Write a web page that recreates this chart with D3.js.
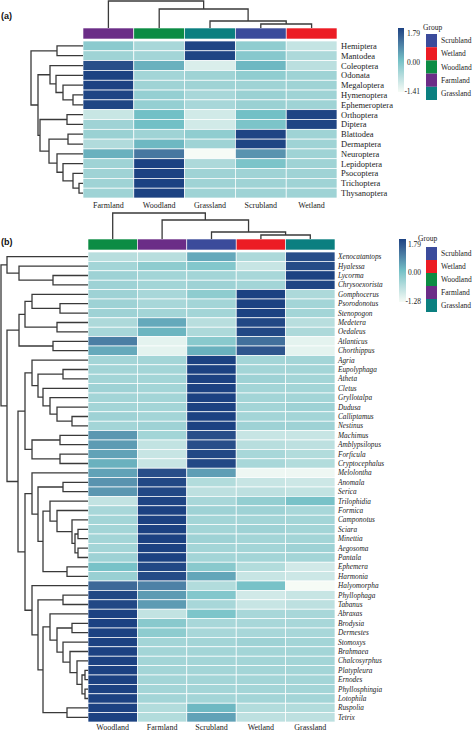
<!DOCTYPE html>
<html><head><meta charset="utf-8">
<script src="https://cdn.jsdelivr.net/npm/d3@7/dist/d3.min.js"></script>
<style>body{margin:0;background:#fff}svg{display:block}</style>
</head><body>
<svg id="c" width="474" height="733"></svg>
<script>
// ---------------- DATA ----------------
const groups = ["Scrubland","Wetland","Woodland","Farmland","Grassland"];
const groupColors = ["#3b4b9b","#ec1c24","#0c8c44","#6b2d87","#0b7f80"];

// Panel (a): orders
const colsA = ["Farmland","Woodland","Grassland","Scrubland","Wetland"];
const rowsA = ["Hemiptera","Mantodea","Coleoptera","Odonata","Megaloptera","Hymenoptera","Ephemeroptera",
  "Orthoptera","Diptera","Blattodea","Dermaptera","Neuroptera","Lepidoptera","Psocoptera","Trichoptera","Thysanoptera"];
const valuesA = [
  [-0.25,-0.55, 1.75,-0.30,-0.85],
  [-0.45,-0.50, 1.75,-0.20,-0.60],
  [ 1.60, 0.20,-1.10, 0.10,-0.75],
  [ 1.79,-0.50,-0.45,-0.30,-0.45],
  [ 1.79,-0.45,-0.45,-0.45,-0.45],
  [ 1.75,-0.35,-0.55,-0.40,-0.45],
  [ 1.75,-0.35,-0.55,-0.40,-0.45],
  [-0.90, 0.00,-1.00, 0.00, 1.75],
  [-0.45, 0.00,-1.00,-0.10, 1.75],
  [-0.40,-0.45,-0.30, 1.75,-0.45],
  [-0.65, 0.10,-0.45, 1.75,-0.45],
  [ 0.20, 1.00,-1.41, 0.60,-0.45],
  [-0.45, 1.79,-0.60,-0.10,-0.45],
  [-0.45, 1.79,-0.45,-0.45,-0.45],
  [-0.45, 1.79,-0.45,-0.45,-0.45],
  [-0.45, 1.79,-0.45,-0.45,-0.45]
];
const legendTicksA = [-1.41, 0, 1.79];
const tickLabelsA = ["-1.41","0.00","1.79"];
// dendrograms: [mergeHeight, left, right]
const colTreeA = [27, "Farmland", [19, "Woodland", [7, "Grassland", [4, "Scrubland", "Wetland"]]]];
const rowTreeA = [52,
  [26, "Hemiptera", "Mantodea"],
  [45,
    [33, "Coleoptera", [27, "Odonata", [20, "Megaloptera", [10, "Hymenoptera", "Ephemeroptera"]]]],
    [43,
      [16, "Orthoptera", "Diptera"],
      [34,
        [15, "Blattodea", "Dermaptera"],
        [26, "Neuroptera", [20, "Lepidoptera", [10, "Psocoptera", [4, "Trichoptera", "Thysanoptera"]]]]]]]];

// Panel (b)
const colsB = ["Woodland","Farmland","Scrubland","Wetland","Grassland"];
const rowsB = ["Xenocatantops","Hyalessa","Lycorma","Chrysoexorista","Gomphocerus","Psorodonotus","Stenopogon",
  "Medetera","Oedaleus","Atlanticus","Chorthippus","Agria","Eupolyphaga","Atheta","Cletus","Gryllotalpa","Dudusa",
  "Calliptamus","Nestinus","Machimus","Amblypsilopus","Forficula","Cryptocephalus","Melolontha","Anomala","Serica",
  "Trilophidia","Formica","Camponotus","Sciara","Minettia","Aegosoma","Pantala","Ephemera","Harmonia","Halyomorpha",
  "Phyllophaga","Tabanus","Abraxas","Brodysia","Dermestes","Stomoxys","Brahmaea","Chalcosyrphus","Platypleura",
  "Ernodes","Phyllosphingia","Lotophila","Ruspolia","Tetrix"];
const valuesB = [
  [-0.65,-0.65, 0.30,-0.55, 1.60],
  [-0.45,-0.25,-0.15,-0.80, 1.65],
  [-0.40,-0.45,-0.45,-0.50, 1.79],
  [-0.40,-0.45,-0.40,-0.45, 1.75],
  [-0.40,-0.50,-0.25, 1.79,-0.55],
  [-0.40,-0.50,-0.45, 1.79,-0.45],
  [-0.40,-0.45,-0.45, 1.79,-0.45],
  [-0.55, 0.30,-0.65, 1.70,-0.65],
  [-0.50, 0.15,-0.55, 1.70,-0.55],
  [ 0.90,-1.10,-0.20, 1.10,-1.10],
  [ 0.30,-1.10, 0.20, 1.50,-1.10],
  [-0.45,-0.45, 1.79,-0.45,-0.45],
  [-0.45,-0.45, 1.79,-0.45,-0.45],
  [-0.45,-0.45, 1.79,-0.40,-0.45],
  [-0.40,-0.45, 1.79,-0.45,-0.45],
  [-0.45,-0.45, 1.79,-0.45,-0.45],
  [-0.45,-0.45, 1.79,-0.45,-0.40],
  [-0.40,-0.45, 1.79,-0.45,-0.45],
  [-0.45,-0.40, 1.79,-0.40,-0.40],
  [ 0.55,-0.45, 1.60,-0.80,-0.80],
  [ 0.50,-0.75, 1.60,-0.65,-0.70],
  [ 0.40,-0.80, 1.70,-0.50,-0.60],
  [ 0.20,-0.80, 1.70,-0.50,-0.60],
  [ 0.40, 1.60, 0.45,-1.20,-1.20],
  [ 0.60, 1.70,-0.60,-0.80,-0.85],
  [ 0.55, 1.70,-0.70,-0.70,-0.75],
  [-0.75, 1.75,-0.50,-0.30,-0.05],
  [-0.50, 1.79,-0.40,-0.40,-0.50],
  [-0.45, 1.79,-0.45,-0.45,-0.45],
  [-0.45, 1.79,-0.45,-0.40,-0.45],
  [-0.45, 1.79,-0.40,-0.45,-0.45],
  [-0.45, 1.79,-0.45,-0.45,-0.40],
  [-0.40, 1.79,-0.45,-0.45,-0.45],
  [-0.05, 1.70,-0.20,-0.60,-0.90],
  [-0.35, 1.65, 0.35,-0.80,-0.85],
  [ 1.20, 0.85,-0.60,-0.05,-1.28],
  [ 1.70, 0.50,-0.15,-0.90,-0.80],
  [ 1.70, 0.50,-0.50,-0.80,-0.70],
  [ 1.79,-0.75,-0.10,-0.50,-0.50],
  [ 1.79,-0.20,-0.50,-0.50,-0.50],
  [ 1.79,-0.25,-0.50,-0.50,-0.50],
  [ 1.79,-0.45,-0.45,-0.40,-0.45],
  [ 1.79,-0.45,-0.45,-0.45,-0.45],
  [ 1.79,-0.45,-0.45,-0.45,-0.45],
  [ 1.79,-0.45,-0.45,-0.45,-0.45],
  [ 1.79,-0.45,-0.45,-0.45,-0.45],
  [ 1.79,-0.45,-0.45,-0.45,-0.45],
  [ 1.79,-0.45,-0.45,-0.45,-0.45],
  [ 1.79,-0.60, 0.10,-0.60,-0.60],
  [ 1.79,-0.60, 0.40,-0.70,-0.70]
];
const legendTicksB = [-1.28, 0, 1.79];
const tickLabelsB = ["-1.28","0.00","1.79"];
const colTreeB = [26, "Woodland", [19, "Farmland", [7, "Scrubland", [4, "Wetland", "Grassland"]]]];
const rowTreeB = [87,
  [81, "Xenocatantops", [69, "Hyalessa", [35, "Lycorma", "Chrysoexorista"]]],
  [81,
    [69, [63, [56, "Gomphocerus", [28, "Psorodonotus", "Stenopogon"]], [31, "Medetera", "Oedaleus"]], [35, "Atlanticus", "Chorthippus"]],
    [70,
      [63,
        [56, "Agria", [50, [25, "Eupolyphaga", "Atheta"], [45, "Cletus", [38, "Gryllotalpa", [31, "Dudusa", [16, "Calliptamus", "Nestinus"]]]]]],
        [56, [28, "Machimus", "Amblypsilopus"], [28, "Forficula", "Cryptocephalus"]]],
      [63,
        [56, "Melolontha", [50, [25, "Anomala", "Serica"], [45, [38, "Trilophidia", [31, "Formica", [16, "Camponotus", [13, [10, "Sciara", "Minettia"], [10, "Aegosoma", "Pantala"]]]]], [21, "Ephemera", "Harmonia"]]]],
        [56, "Halyomorpha", [50, [25, "Phyllophaga", "Tabanus"], [45, [38, "Abraxas", [31, [16, "Brodysia", "Dermestes"], [25, "Stomoxys", [18, "Brahmaea", [11, "Chalcosyrphus", [6, [3, "Platypleura", "Ernodes"], [3, "Phyllosphingia", "Lotophila"]]]]]]], [21, "Ruspolia", "Tetrix"]]]]]]]];

// ---------------- DRAW ----------------
const svg = d3.select("#c");
const SERIF = "'Liberation Serif','Times New Roman',serif";
const groupColor = d3.scaleOrdinal().domain(groups).range(groupColors);
const rampColors = ["#f6fbf6","#72c0c6","#1c4282"];

function drawTree(g, tree, leafPos, hScale, orient) {
  const segs = [];
  (function rec(n) {
    if (typeof n === "string") return {p: leafPos(n), h: 0};
    const [h, a, b] = n;
    const A = rec(a), B = rec(b);
    segs.push([[A.p, A.h], [A.p, h], [B.p, h], [B.p, B.h]]);
    return {p: (A.p + B.p) / 2, h};
  })(tree);
  const line = d3.line()
    .x(d => orient === "row" ? hScale(d[1]) : d[0])
    .y(d => orient === "row" ? d[0] : hScale(d[1]));
  g.selectAll("path").data(segs).join("path")
    .attr("d", line).attr("fill", "none").attr("stroke", "#3a3a3a").attr("stroke-width", 1.3);
}

function panel(cfg) {
  const g = svg.append("g");
  const x = d3.scaleBand().domain(cfg.cols).range([cfg.hx0, cfg.hx1]);
  const y = d3.scaleBand().domain(cfg.rows).range([cfg.hy0, cfg.hy1]);
  const ext = d3.extent(cfg.ticks);
  const color = d3.scaleLinear().domain([ext[0], 0, ext[1]]).range(rampColors).interpolate(d3.interpolateLab).clamp(true);

  // cells
  const cells = [];
  cfg.values.forEach((row, i) => row.forEach((v, j) => cells.push({r: cfg.rows[i], c: cfg.cols[j], v})));
  g.append("g").selectAll("rect").data(cells).join("rect")
    .attr("x", d => x(d.c)).attr("y", d => y(d.r))
    .attr("width", x.bandwidth()).attr("height", y.bandwidth())
    .attr("fill", d => color(d.v)).attr("stroke", "#ffffff").attr("stroke-width", 0.7);

  // group annotation bar
  g.append("g").selectAll("rect").data(cfg.cols).join("rect")
    .attr("x", d => x(d)).attr("y", cfg.by0).attr("width", x.bandwidth()).attr("height", cfg.by1 - cfg.by0)
    .attr("fill", d => groupColor(d)).attr("stroke", "#ffffff").attr("stroke-width", 0.6);

  // row labels
  g.append("g").selectAll("text").data(cfg.rows).join("text")
    .attr("x", cfg.hx1 + cfg.rowLabelGap).attr("y", d => y(d) + y.bandwidth() / 2)
    .attr("dy", "0.35em").attr("font-family", SERIF).attr("font-size", cfg.rowFont)
    .attr("font-style", cfg.italic ? "italic" : "normal").attr("fill", "#222").text(d => d);

  // column labels
  g.append("g").selectAll("text").data(cfg.cols).join("text")
    .attr("x", d => x(d) + x.bandwidth() / 2).attr("y", cfg.colLabelY)
    .attr("text-anchor", "middle").attr("font-family", SERIF).attr("font-size", 8).attr("fill", "#222").text(d => d);

  // column dendrogram
  const hCol = d3.scaleLinear().domain([0, cfg.colTree[0]]).range([cfg.by0, cfg.colTop]);
  drawTree(g.append("g"), cfg.colTree, c => x(c) + x.bandwidth() / 2, hCol, "col");
  // row dendrogram
  const hRow = d3.scaleLinear().domain([0, cfg.rowTree[0]]).range([cfg.hx0, cfg.rowLeft]);
  drawTree(g.append("g"), cfg.rowTree, r => y(r) + y.bandwidth() / 2, hRow, "row");

  // panel letter
  g.append("text").attr("x", 1).attr("y", cfg.letterY).attr("font-family", "'Liberation Sans',Arial,sans-serif")
    .attr("font-weight", "bold").attr("font-size", 9).attr("fill", "#111").text(cfg.letter);

  // color legend
  const L = cfg.leg;
  const barY = d3.scaleLinear().domain([ext[0], 0, ext[1]]).range([L.barBottom, (L.barBottom + L.barTop) / 2, L.barTop]);
  const gid = "grad" + cfg.letter.replace(/\W/g, "");
  const grad = svg.append("defs").append("linearGradient").attr("id", gid)
    .attr("x1", 0).attr("x2", 0).attr("y1", 0).attr("y2", 1);
  d3.range(0, 1.0001, 0.05).forEach(t => {
    const v = barY.invert(L.barTop + t * (L.barBottom - L.barTop));
    grad.append("stop").attr("offset", t).attr("stop-color", color(v));
  });
  g.append("rect").attr("x", L.barX).attr("y", L.barTop).attr("width", L.barW)
    .attr("height", L.barBottom - L.barTop).attr("fill", `url(#${gid})`);
  const labY = d3.scaleLinear().domain([ext[0], 0, ext[1]])
    .range([L.barBottom - 1, (L.barBottom - 1 + L.barTop + 5) / 2, L.barTop + 5]);
  g.append("g").selectAll("text").data(cfg.ticks).join("text")
    .attr("x", L.tickX).attr("y", d => labY(d)).attr("dy", "0.35em").attr("text-anchor", "end")
    .attr("font-family", SERIF).attr("font-size", 7.5).attr("fill", "#222")
    .text((d, i) => cfg.tickLabels[i]);

  // group legend
  g.append("text").attr("x", L.titleX).attr("y", L.titleY).attr("dy", "0.35em")
    .attr("font-family", SERIF).attr("font-size", 7.5).attr("fill", "#222").text("Group");
  const sw = d3.scaleBand().domain(groups).range([L.swTop, L.swBottom]);
  g.append("g").selectAll("rect").data(groups).join("rect")
    .attr("x", L.swX).attr("y", d => sw(d)).attr("width", L.swW).attr("height", sw.bandwidth())
    .attr("fill", d => groupColor(d));
  g.append("g").selectAll("text").data(groups).join("text")
    .attr("x", L.swX + L.swW + 4).attr("y", d => sw(d) + sw.bandwidth() / 2).attr("dy", "0.35em")
    .attr("font-family", SERIF).attr("font-size", 7.5).attr("fill", "#222").text(d => d);
}

panel({
  letter: "(a)", letterY: 19, cols: colsA, rows: rowsA, values: valuesA, ticks: legendTicksA, tickLabels: tickLabelsA,
  colTree: colTreeA, rowTree: rowTreeA,
  hx0: 83, hx1: 337, hy0: 41, hy1: 198, by0: 28, by1: 39, colTop: 1, rowLeft: 31,
  rowLabelGap: 4, rowFont: 8.5, italic: false, colLabelY: 208,
  leg: {barX: 398, barW: 6, barTop: 28, barBottom: 92, tickX: 420, titleX: 423, titleY: 27,
        swX: 426, swW: 11, swTop: 34, swBottom: 100}
});
panel({
  letter: "(b)", letterY: 245, cols: colsB, rows: rowsB, values: valuesB, ticks: legendTicksB, tickLabels: tickLabelsB,
  colTree: colTreeB, rowTree: rowTreeB,
  hx0: 88, hx1: 335, hy0: 252, hy1: 722, by0: 239, by1: 250, colTop: 213, rowLeft: 1,
  rowLabelGap: 3, rowFont: 7.3, italic: true, colLabelY: 730,
  leg: {barX: 399, barW: 7, barTop: 239, barBottom: 302, tickX: 421, titleX: 418, titleY: 238,
        swX: 426, swW: 11, swTop: 247, swBottom: 312}
});
</script>
</body></html>
